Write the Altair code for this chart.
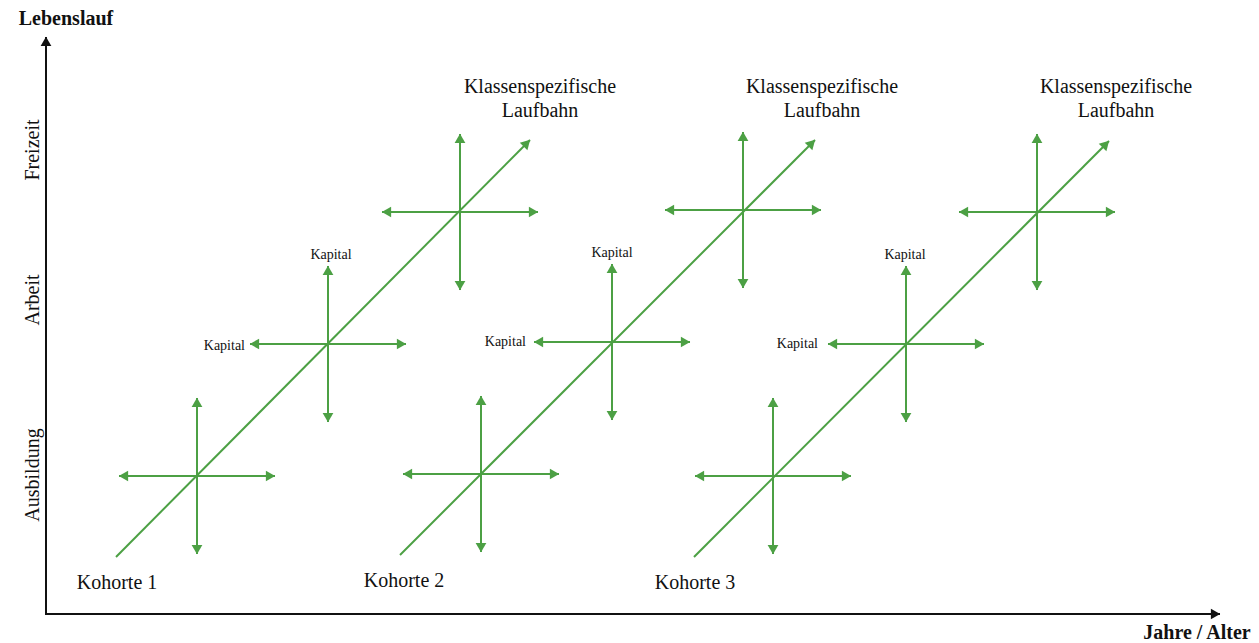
import math
import altair as alt
import pandas as pd

# ---------------- data (page pixel units) ----------------
cohort_labels = ["Kohorte 1", "Kohorte 2", "Kohorte 3"]
cohort_label_x = [117, 404, 695]
cohort_label_y = [583, 581, 583]

diag_start_x = [116, 400, 694]
diag_start_y = [557, 555, 557]
diag_end_x = [530, 815, 1109]
diag_end_y = [140, 140, 141]

cross_x = [[197, 328, 460], [481, 612, 743], [773, 906, 1037]]
cross_y = [[476, 344, 212], [474, 342, 210], [476, 344, 212]]
cross_arm = [78, 78, 78]

kapital_top_x = [331, 612, 905]
kapital_top_y = [255, 253, 255]
kapital_left_x = [245, 526, 818]
kapital_left_y = [346, 342, 344]

career_title = ["Klassenspezifische", "Laufbahn"]
career_x = [540, 822, 1116]
career_y = [87, 111]

axis_origin = (46, 614)
axis_top = 37
axis_right = 1220
y_title = "Lebenslauf"
y_title_pos = (66, 19)
x_title = "Jahre / Alter"
x_title_pos = (1197, 633)
phase_labels = ["Freizeit", "Arbeit", "Ausbildung"]
phase_y = [150, 300, 475]
phase_x = 33

GREEN = "#4CA044"
BLACK = "#111111"
FONT = "Liberation Serif"

# ---------------- build tables ----------------
segs = []
for c in range(3):
    segs.append(dict(x=diag_start_x[c], y=diag_start_y[c], x2=diag_end_x[c], y2=diag_end_y[c], col="g"))
    for k in range(3):
        cx, cy, a = cross_x[c][k], cross_y[c][k], cross_arm[c]
        for ex, ey in [(cx - a, cy), (cx + a, cy), (cx, cy - a), (cx, cy + a)]:
            segs.append(dict(x=cx, y=cy, x2=ex, y2=ey, col="g"))
ox, oy = axis_origin
segs.append(dict(x=ox, y=oy + 1, x2=ox, y2=axis_top, col="k"))
segs.append(dict(x=ox - 1, y=oy, x2=axis_right, y2=oy, col="k"))
seg_df = pd.DataFrame(segs)

heads = []
HL = 6
for s in segs:
    dx, dy = s["x2"] - s["x"], s["y2"] - s["y"]
    L = math.hypot(dx, dy)
    ux, uy = dx / L, dy / L
    ang = math.degrees(math.atan2(dx, -dy)) % 360
    heads.append(dict(x=s["x2"] - ux * HL, y=s["y2"] - uy * HL, angle=ang, col=s["col"]))
head_df = pd.DataFrame(heads)

big_text = []
for c in range(3):
    big_text.append(dict(x=cohort_label_x[c], y=cohort_label_y[c], t=cohort_labels[c]))
    for i, line in enumerate(career_title):
        big_text.append(dict(x=career_x[c], y=career_y[i], t=line))
big_df = pd.DataFrame(big_text)

kap_top_df = pd.DataFrame(dict(x=kapital_top_x, y=kapital_top_y, t=["Kapital"] * 3))
kap_left_df = pd.DataFrame(dict(x=kapital_left_x, y=kapital_left_y, t=["Kapital"] * 3))
bold_df = pd.DataFrame(dict(x=[y_title_pos[0], x_title_pos[0]], y=[y_title_pos[1], x_title_pos[1]], t=[y_title, x_title]))
phase_df = pd.DataFrame(dict(x=[phase_x] * 3, y=phase_y, t=phase_labels))

# ---------------- chart ----------------
W, H = 1243, 635
xs = alt.Scale(domain=[8, 8 + W], nice=False, zero=False)
ys = alt.Scale(domain=[8, 8 + H], nice=False, zero=False, reverse=True)
X = lambda f="x": alt.X(f"{f}:Q", scale=xs, axis=None)
Y = lambda f="y": alt.Y(f"{f}:Q", scale=ys, axis=None)
colscale = alt.Scale(domain=["g", "k"], range=[GREEN, BLACK])

lines = alt.Chart(seg_df).mark_rule(strokeWidth=2, strokeCap="butt").encode(
    x=X(), y=Y(), x2="x2:Q", y2="y2:Q",
    color=alt.Color("col:N", scale=colscale, legend=None),
)
arrowheads = alt.Chart(head_df).mark_point(shape="triangle", filled=True, opacity=1, size=115, strokeWidth=0).encode(
    x=X(), y=Y(), angle=alt.Angle("angle:Q", scale=None),
    color=alt.Color("col:N", scale=colscale, legend=None),
)
big = alt.Chart(big_df).mark_text(font=FONT, fontSize=20, color=BLACK, align="center", baseline="middle").encode(
    x=X(), y=Y(), text="t:N")
ktop = alt.Chart(kap_top_df).mark_text(font=FONT, fontSize=14, color=BLACK, align="center", baseline="middle").encode(
    x=X(), y=Y(), text="t:N")
kleft = alt.Chart(kap_left_df).mark_text(font=FONT, fontSize=14, color=BLACK, align="right", baseline="middle").encode(
    x=X(), y=Y(), text="t:N")
bold = alt.Chart(bold_df).mark_text(font=FONT, fontSize=20, fontWeight="bold", color=BLACK, align="center", baseline="middle").encode(
    x=X(), y=Y(), text="t:N")
phase = alt.Chart(phase_df).mark_text(font=FONT, fontSize=20, color=BLACK, align="center", baseline="middle", angle=270).encode(
    x=X(), y=Y(), text="t:N")

chart = alt.layer(lines, arrowheads, big, ktop, kleft, bold, phase).properties(
    width=W, height=H, padding=0, background="white",
    autosize=alt.AutoSizeParams(type="none"),
).configure_view(stroke=None)

chart.save("out.html", embed_options={"renderer": "svg", "actions": False})
